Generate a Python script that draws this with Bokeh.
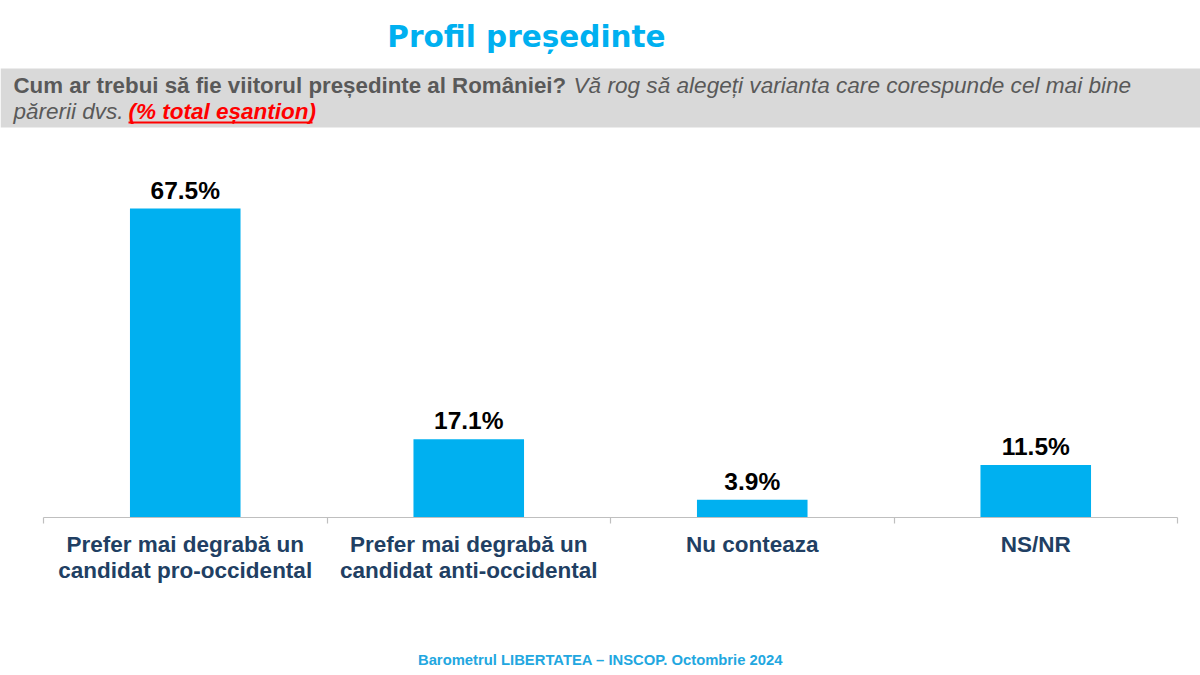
from bokeh.plotting import figure
from bokeh.models import (ColumnDataSource, FactorRange, Range1d, LinearAxis, CategoricalAxis,
                          FixedTicker, LabelSet, Label, BoxAnnotation)
from bokeh.layouts import column
from bokeh.core.properties import value
from bokeh.embed import file_html
from bokeh.resources import INLINE

# ---- data ----
categories = ["Prefer mai degrabă un\ncandidat pro-occidental",
              "Prefer mai degrabă un\ncandidat anti-occidental",
              "Nu conteaza",
              "NS/NR"]
values = [67.5, 17.1, 3.9, 11.5]
value_labels = ["67.5%", "17.1%", "3.9%", "11.5%"]

title_text = "Profil președinte"
question_bold = "Cum ar trebui să fie viitorul președinte al României?"
question_italic = "Vă rog să alegeți varianta care corespunde cel mai bine"
question_line2 = "părerii dvs."
question_red = "(% total eșantion)"
footer_text = "Barometrul LIBERTATEA – INSCOP. Octombrie 2024"

BLUE = "#00B0F0"
FONT = "Liberation Sans"
W = 1200


def blank(height):
    f = figure(width=W, height=height, output_backend="svg", toolbar_location=None,
               x_range=Range1d(0, W), y_range=Range1d(0, height),
               x_axis_location=None, y_axis_location=None, min_border=0,
               min_border_left=0, min_border_right=0, min_border_top=0, min_border_bottom=0)
    f.outline_line_color = None
    f.grid.visible = False
    f.frame_align = False
    return f


# ---- header (page y measured from top; converted with HH - y) ----
HH = 140
hdr = blank(HH)
hdr.add_layout(BoxAnnotation(left=0, right=W, top=HH - 68, bottom=HH - 127, fill_color="#D9D9D9",
                             fill_alpha=1, line_color=None, level="underlay"))
hdr.add_layout(Label(x=526, y=HH - 36, text=title_text, text_align="center",
                     text_baseline="alphabetic", text_font="DejaVu Sans",
                     text_font_style="bold", text_font_size="29.5px", text_color=BLUE))
common = dict(text_baseline="alphabetic", text_font=FONT)
hdr.add_layout(Label(x=13, y=HH - 85, text=question_bold, text_font_style="bold",
                     text_font_size="22.3px", text_color="#595959", **common))
hdr.add_layout(Label(x=573, y=HH - 85, text=question_italic, text_font_style="italic",
                     text_font_size="22.6px", text_color="#595959", **common))
hdr.add_layout(Label(x=13, y=HH - 111, text=question_line2, text_font_style="italic",
                     text_font_size="22.5px", text_color="#595959", **common))
hdr.add_layout(Label(x=128, y=HH - 111, text=question_red, text_font_style="bold italic",
                     text_font_size="22.5px", text_color="#FF0000", **common))
hdr.add_layout(BoxAnnotation(left=128, right=312, top=HH - 121, bottom=HH - 123,
                             fill_color="#FF0000", fill_alpha=1, line_color=None))

# ---- chart ----
src = ColumnDataSource(dict(cat=categories, val=values, lab=value_labels))
p = figure(width=W, height=470, output_backend="svg", toolbar_location=None,
           x_range=FactorRange(*categories, range_padding=0),
           y_range=Range1d(0, 80.2),
           x_axis_location=None, y_axis_location=None,
           min_border_left=43, min_border_right=23,
           min_border_top=10, min_border_bottom=93)
p.outline_line_color = None
p.grid.visible = False
p.frame_align = False

p.vbar(x="cat", top="val", width=0.39, source=src, color=BLUE, line_color=None)

p.add_layout(LabelSet(x="cat", y="val", text="lab", source=src, y_offset=10,
                      text_align="center", text_baseline="alphabetic",
                      text_font=value(FONT), text_font_style="bold", text_font_size="24.5px",
                      text_color="black"))

# axis line with ticks at category boundaries (synthetic coordinates 0..n)
bax = LinearAxis(ticker=FixedTicker(ticks=[], minor_ticks=list(range(len(categories) + 1))),
                 axis_line_color="#BFBFBF", axis_line_width=1.2,
                 major_tick_line_color=None, major_tick_in=0, major_tick_out=0,
                 minor_tick_line_color="#BFBFBF", minor_tick_line_width=1.2,
                 minor_tick_in=0, minor_tick_out=6, major_label_standoff=0)
p.add_layout(bax, "below")

cax = CategoricalAxis(axis_line_color=None, major_tick_line_color=None,
                      minor_tick_line_color=None, major_tick_out=0, major_tick_in=0,
                      major_label_standoff=8, major_label_text_font=FONT,
                      major_label_text_font_style="bold", major_label_text_font_size="22.5px",
                      major_label_text_line_height=1.05,
                      major_label_text_color="#213F63", major_label_orientation="horizontal")
p.add_layout(cax, "below")

# ---- footer (page y 610..675) ----
FH = 65
ftr = blank(FH)
ftr.add_layout(Label(x=600, y=675 - 659, text=footer_text, text_align="center",
                     text_baseline="alphabetic", text_font=FONT, text_font_style="bold",
                     text_font_size="14.8px", text_color="#22A7E0"))

layout = column(hdr, p, ftr, spacing=0)
open("out.html", "w").write(file_html(layout, INLINE))
